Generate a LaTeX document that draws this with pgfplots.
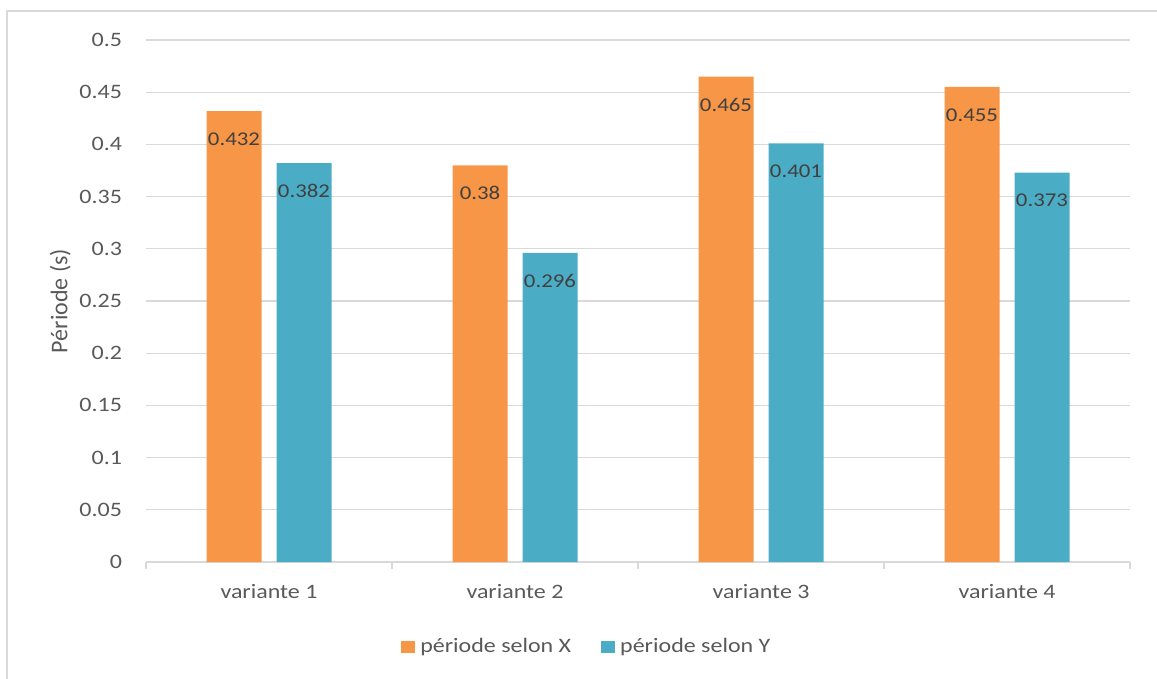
\documentclass[border=0pt]{standalone}
\usepackage{fontspec}
\setmainfont[FakeStretch=1.17]{Carlito}
\newfontfamily\labfont{Carlito}
\usepackage{pgfplots}
\pgfplotsset{compat=1.18}
\definecolor{cX}{HTML}{F79646}
\definecolor{cY}{HTML}{4BACC6}
\definecolor{gridc}{HTML}{D9D9D9}
\definecolor{txt}{HTML}{595959}
\definecolor{lbl}{HTML}{404040}
\begin{document}
\fontsize{20.5pt}{24pt}\selectfont
\begin{tikzpicture}
\useasboundingbox (0,0) rectangle (1157pt,-678pt);
\clip (0,0) rectangle (1157pt,-678pt);
\draw[gridc, line width=1.5pt] (7pt,-11pt) rectangle (1175pt,-700pt);
\begin{axis}[
  at={(146pt,-562pt)}, anchor=south west,
  scale only axis, width=984pt, height=522pt,
  ymin=0, ymax=0.5,
  ytick={0,0.05,0.1,0.15,0.2,0.25,0.3,0.35,0.4,0.45,0.5},
  yticklabels={0,0.05,0.1,0.15,0.2,0.25,0.3,0.35,0.4,0.45,0.5},
  xmin=-0.5, xmax=3.5,
  ybar=15pt, bar width=55pt,
  axis line style={draw=none},
  ymajorgrids, grid style={gridc, line width=1.2pt},
  ytick style={draw=none},
  xtick={-0.5,0.5,1.5,2.5,3.5}, xticklabels={},
  xtick pos=bottom, xtick align=outside,
  xtick style={gridc, line width=1.2pt},
  major tick length=7pt,
  extra x ticks={0,1,2,3},
  extra x tick labels={variante 1,variante 2,variante 3,variante 4},
  extra x tick style={major tick length=0pt, xticklabel style={yshift=-15pt}},
  ticklabel style={text=txt},
  yticklabel style={xshift=-17pt},
  ylabel={\labfont\fontsize{24pt}{28pt}\selectfont Période (s)},
  ylabel style={at={(axis description cs:-0.087,0.5)}, anchor=center, text=txt},
  point meta=explicit symbolic,
  nodes near coords,
  nodes near coords style={anchor=center, yshift=-28pt, text=lbl, font=\fontsize{19.5pt}{23pt}\selectfont},
  legend style={at={(axis description cs:0.448,-0.163)}, anchor=center, draw=none,
    legend columns=2, text=txt,
    /tikz/every odd column/.append style={column sep=3pt},
    /tikz/every even column/.append style={column sep=28pt}},
]
\addplot[fill=cX, draw=none, legend image code/.code={\fill[cX] (0pt,-6pt) rectangle (14pt,6pt);}]
  coordinates {(0,0.432) [0.432] (1,0.38) [0.38] (2,0.465) [0.465] (3,0.455) [0.455]};
\addplot[fill=cY, draw=none, legend image code/.code={\fill[cY] (0pt,-6pt) rectangle (14pt,6pt);}]
  coordinates {(0,0.382) [0.382] (1,0.296) [0.296] (2,0.401) [0.401] (3,0.373) [0.373]};
\legend{période selon X, période selon Y}
\end{axis}
\end{tikzpicture}
\end{document}
